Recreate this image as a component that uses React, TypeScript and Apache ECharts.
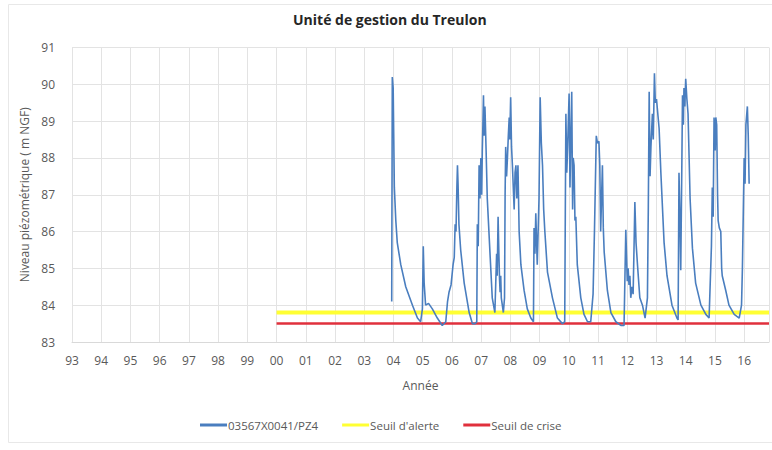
import React, { useEffect, useRef } from "react";
import * as echarts from "echarts";

const TITLE = "Unité de gestion du Treulon";
const Y_NAME = "Niveau piézométrique ( m NGF)";
const X_NAME = "Année";
const SERIES_NAMES = ["03567X0041/PZ4", "Seuil d'alerte", "Seuil de crise"];

const X_MIN = 1993;
const X_MAX = 2016.85;
const Y_MIN = 83;
const Y_MAX = 91;

// piezometer readings: [decimal year, level m NGF]
const pz4: [number, number][] = [
  [2003.94, 84.1], [2003.96, 90.2], [2003.99, 89.9], [2004.03, 87.2], [2004.08, 86.3], [2004.13, 85.7],
  [2004.25, 85.1], [2004.42, 84.5], [2004.65, 84.0], [2004.82, 83.65], [2004.93, 83.55], [2004.99, 83.9],
  [2005.02, 85.6], [2005.05, 84.6], [2005.1, 84.0], [2005.2, 84.05], [2005.33, 83.9], [2005.5, 83.65],
  [2005.67, 83.45], [2005.79, 83.55], [2005.85, 84.1], [2005.9, 84.35], [2005.97, 84.55], [2006.04, 85.1],
  [2006.08, 85.3], [2006.11, 86.2], [2006.14, 86.0], [2006.17, 87.2], [2006.19, 87.8], [2006.21, 87.3],
  [2006.24, 86.2], [2006.3, 85.5], [2006.42, 84.6], [2006.59, 83.8], [2006.7, 83.5], [2006.8, 83.5],
  [2006.85, 83.55], [2006.87, 86.2], [2006.9, 85.6], [2006.93, 87.8], [2006.96, 86.9], [2006.99, 88.0],
  [2007.02, 87.0], [2007.04, 88.2], [2007.06, 88.9], [2007.08, 89.7], [2007.1, 88.6], [2007.13, 89.4],
  [2007.17, 88.2], [2007.21, 86.9], [2007.31, 85.3], [2007.38, 84.2], [2007.47, 83.8], [2007.5, 84.6],
  [2007.53, 85.4], [2007.55, 84.8], [2007.58, 86.4], [2007.61, 85.3], [2007.63, 84.7], [2007.65, 84.35],
  [2007.67, 84.8], [2007.69, 84.2], [2007.76, 83.8], [2007.8, 84.2], [2007.82, 87.0], [2007.84, 88.3],
  [2007.87, 87.5], [2007.9, 88.0], [2007.93, 88.6], [2007.96, 89.1], [2007.98, 88.5], [2008.01, 89.65],
  [2008.04, 88.3], [2008.07, 87.8], [2008.1, 87.2], [2008.13, 86.6], [2008.16, 87.6], [2008.19, 87.8],
  [2008.22, 86.9], [2008.26, 87.8], [2008.3, 86.0], [2008.36, 85.1], [2008.47, 84.4], [2008.58, 83.9],
  [2008.7, 83.65], [2008.79, 83.55], [2008.81, 86.1], [2008.84, 85.4], [2008.87, 86.5], [2008.92, 85.1],
  [2008.95, 86.0], [2008.98, 86.9], [2009.02, 89.65], [2009.06, 88.4], [2009.1, 87.8], [2009.14, 86.6],
  [2009.18, 86.0], [2009.27, 84.9], [2009.44, 84.2], [2009.61, 83.65], [2009.78, 83.5], [2009.86, 83.55],
  [2009.88, 86.5], [2009.9, 89.2], [2009.93, 87.6], [2009.96, 88.3], [2010.01, 89.75], [2010.04, 87.2],
  [2010.07, 88.6], [2010.1, 89.8], [2010.13, 86.6], [2010.15, 88.0], [2010.18, 87.8], [2010.21, 86.3],
  [2010.24, 86.4], [2010.29, 85.1], [2010.41, 84.2], [2010.52, 83.75], [2010.64, 83.55], [2010.75, 83.55],
  [2010.83, 84.3], [2010.88, 86.1], [2010.94, 88.6], [2010.98, 88.4], [2011.03, 88.45], [2011.06, 87.8],
  [2011.09, 86.0], [2011.12, 86.9], [2011.15, 87.8], [2011.18, 86.1], [2011.21, 85.45], [2011.32, 84.4],
  [2011.44, 83.8], [2011.61, 83.55], [2011.78, 83.45], [2011.89, 83.45], [2011.95, 86.05], [2012.0, 84.65],
  [2012.03, 85.0], [2012.06, 84.55], [2012.09, 84.8], [2012.12, 84.2], [2012.16, 84.5], [2012.2, 84.3],
  [2012.23, 85.5], [2012.26, 86.8], [2012.3, 85.7], [2012.35, 85.1], [2012.43, 84.2], [2012.52, 84.0],
  [2012.61, 83.65], [2012.69, 84.2], [2012.72, 86.6], [2012.75, 89.8], [2012.78, 87.5], [2012.81, 88.3],
  [2012.86, 89.2], [2012.89, 88.5], [2012.93, 90.3], [2012.96, 89.5], [2013.0, 89.6], [2013.09, 88.8],
  [2013.15, 87.6], [2013.26, 85.7], [2013.36, 84.8], [2013.53, 84.0], [2013.7, 83.65], [2013.74, 83.6],
  [2013.77, 87.6], [2013.8, 86.5], [2013.83, 84.95], [2013.87, 88.0], [2013.89, 89.7], [2013.92, 88.9],
  [2013.94, 89.9], [2013.97, 89.4], [2014.0, 90.15], [2014.04, 89.6], [2014.08, 89.2], [2014.15, 86.9],
  [2014.23, 85.55], [2014.34, 84.6], [2014.52, 84.0], [2014.69, 83.75], [2014.8, 83.65], [2014.88, 85.6],
  [2014.91, 87.2], [2014.94, 86.4], [2014.97, 89.1], [2015.01, 88.2], [2015.03, 89.1], [2015.06, 88.9],
  [2015.09, 87.0], [2015.11, 86.3], [2015.15, 86.1], [2015.2, 86.0], [2015.23, 85.0], [2015.25, 84.8],
  [2015.37, 84.4], [2015.48, 84.0], [2015.66, 83.75], [2015.83, 83.65], [2015.91, 84.0], [2015.94, 85.0],
  [2015.97, 86.5], [2016.0, 88.0], [2016.03, 87.3], [2016.06, 88.9], [2016.11, 89.4], [2016.14, 88.6],
  [2016.17, 87.3],
];

const alertLevel = 83.8;
const crisisLevel = 83.5;
const thresholdYears = [2000, X_MAX];

const FONT = "'Open Sans', Lato, sans-serif";
const GREY = "#595959";

export default function App() {
  const ref = useRef<HTMLDivElement>(null);
  useEffect(() => {
    if (!ref.current) return;
    const chart = echarts.init(ref.current, null, { renderer: "svg" });
    const yearLabel = (v: number) =>
      Math.abs(v - Math.round(v)) < 1e-6 ? String(Math.round(v) % 100).padStart(2, "0") : "";
    chart.setOption({
      animation: false,
      backgroundColor: "#ffffff",
      textStyle: { fontFamily: FONT },
      title: {
        text: TITLE,
        left: 288,
        top: 7,
        textStyle: { fontSize: 14, fontWeight: "bold", color: "#262626", fontFamily: FONT },
      },
      graphic: [
        {
          type: "rect",
          shape: { x: 8.5, y: 4.5, width: 800, height: 438 },
          style: { fill: "none", stroke: "#e8e8e8", lineWidth: 1 },
          silent: true,
        },
      ],
      legend: {
        left: 195,
        top: 414,
        icon: "rect",
        itemWidth: 27,
        itemHeight: 3,
        itemGap: 24,
        textStyle: { color: GREY, fontSize: 11.5, fontFamily: FONT, padding: [0, 0, 0, -4] },
        data: SERIES_NAMES,
      },
      grid: { left: 72, right: 2, top: 47.5, bottom: 108, containLabel: false },
      xAxis: {
        type: "value",
        min: X_MIN,
        max: X_MAX,
        interval: 1,
        name: X_NAME,
        nameLocation: "middle",
        nameGap: 37,
        nameTextStyle: { color: GREY, fontSize: 12, fontFamily: FONT },
        axisLine: { show: true, lineStyle: { color: "#d9d9d9" } },
        axisTick: { show: false },
        axisLabel: { color: GREY, fontSize: 12, margin: 12, formatter: yearLabel, fontFamily: FONT },
        splitLine: { show: true, lineStyle: { color: "#e3e3e3" } },
      },
      yAxis: {
        type: "value",
        min: Y_MIN,
        max: Y_MAX,
        interval: 1,
        name: Y_NAME,
        nameLocation: "middle",
        nameGap: 36,
        nameTextStyle: { color: GREY, fontSize: 12, fontFamily: FONT },
        axisLine: { show: false },
        axisTick: { show: false },
        axisLabel: { color: GREY, fontSize: 12, margin: 17, fontFamily: FONT },
        splitLine: { show: true, lineStyle: { color: "#e3e3e3" } },
      },
      series: [
        {
          name: SERIES_NAMES[0],
          type: "line",
          data: pz4,
          symbol: "none",
          z: 3,
          lineStyle: { color: "#4a7ebf", width: 1.6 },
          itemStyle: { color: "#4a7ebf" },
        },
        {
          name: SERIES_NAMES[1],
          type: "line",
          data: thresholdYears.map((x) => [x, alertLevel]),
          symbol: "none",
          z: 2,
          lineStyle: { color: "#ffff33", width: 4 },
          itemStyle: { color: "#ffff33" },
        },
        {
          name: SERIES_NAMES[2],
          type: "line",
          data: thresholdYears.map((x) => [x, crisisLevel]),
          symbol: "none",
          z: 2,
          lineStyle: { color: "#e0303c", width: 2.5 },
          itemStyle: { color: "#e0303c" },
        },
      ],
    });
    return () => chart.dispose();
  }, []);
  return (
    <div
      ref={ref}
      style={{ position: "absolute", left: 0, top: 0, width: 772, height: 450 }}
    />
  );
}
